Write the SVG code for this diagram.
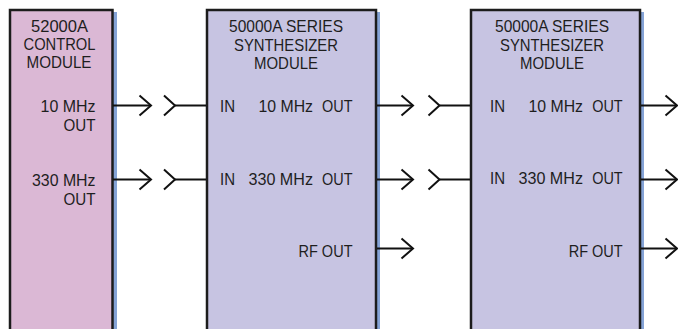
<svg xmlns="http://www.w3.org/2000/svg" width="678" height="329" viewBox="0 0 678 329">
<defs>
<style>
.box{stroke:#1c1c1c;stroke-width:2.5}
.ctl{fill:#dbb8d5}
.syn{fill:#c7c4e2}
.sh{fill:#85a3d6}
.t{font-family:"Liberation Sans",Arial,sans-serif;font-size:17px;fill:#1e1e1e}
.m{text-anchor:middle}
.e{text-anchor:end}
.w{fill:none;stroke:#111;stroke-width:2}
</style>
<marker id="out" markerUnits="userSpaceOnUse" markerWidth="1" markerHeight="1" refX="0" refY="0" orient="auto" overflow="visible">
<path d="M-11.5,-10 L0,0 L-11.5,10" fill="none" stroke="#111" stroke-width="2"/>
</marker>
<marker id="in" markerUnits="userSpaceOnUse" markerWidth="1" markerHeight="1" refX="0" refY="0" orient="auto" overflow="visible">
<path d="M-11,-10 L0,0 L-11,10" fill="none" stroke="#111" stroke-width="2"/>
</marker>
</defs>
<rect width="678" height="329" fill="#fff"/>

<g id="control">
<rect class="sh" x="14.5" y="12" width="102.5" height="330"/>
<rect class="box ctl" x="10" y="10" width="102.5" height="330"/>
<text class="t m" x="59.5" y="32.3" textLength="57" lengthAdjust="spacingAndGlyphs">52000A</text>
<text class="t m" x="59.5" y="50.3" textLength="72" lengthAdjust="spacingAndGlyphs">CONTROL</text>
<text class="t m" x="59" y="68.3" textLength="65" lengthAdjust="spacingAndGlyphs">MODULE</text>
<text class="t e" x="95.5" y="112" textLength="55" lengthAdjust="spacingAndGlyphs">10 MHz</text>
<text class="t e" x="95.5" y="131" textLength="32" lengthAdjust="spacingAndGlyphs">OUT</text>
<text class="t e" x="95.5" y="185.5" textLength="63.5" lengthAdjust="spacingAndGlyphs">330 MHz</text>
<text class="t e" x="95.5" y="204.5" textLength="32" lengthAdjust="spacingAndGlyphs">OUT</text>
</g>

<g id="synth1">
<rect class="sh" x="211" y="12" width="169" height="330"/>
<rect class="box syn" x="207" y="10" width="169" height="330"/>
<text class="t m" x="286" y="32.3" textLength="114" lengthAdjust="spacingAndGlyphs">50000A SERIES</text>
<text class="t m" x="286" y="50.5" textLength="104" lengthAdjust="spacingAndGlyphs">SYNTHESIZER</text>
<text class="t m" x="286" y="68.5" textLength="64" lengthAdjust="spacingAndGlyphs">MODULE</text>
<text class="t" x="220" y="112" textLength="15" lengthAdjust="spacingAndGlyphs">IN</text>
<text class="t e" x="313" y="112" textLength="54.5" lengthAdjust="spacingAndGlyphs">10 MHz</text>
<text class="t e" x="352.5" y="112" textLength="30.5" lengthAdjust="spacingAndGlyphs">OUT</text>
<text class="t" x="220" y="184.5" textLength="15" lengthAdjust="spacingAndGlyphs">IN</text>
<text class="t e" x="313" y="184.5" textLength="64.5" lengthAdjust="spacingAndGlyphs">330 MHz</text>
<text class="t e" x="352.5" y="184.5" textLength="30.5" lengthAdjust="spacingAndGlyphs">OUT</text>
<text class="t e" x="352.5" y="256.6" textLength="54" lengthAdjust="spacingAndGlyphs">RF OUT</text>
</g>

<g id="synth2">
<rect class="sh" x="475" y="12" width="169" height="330"/>
<rect class="box syn" x="471" y="10" width="169" height="330"/>
<text class="t m" x="552" y="32.3" textLength="114" lengthAdjust="spacingAndGlyphs">50000A SERIES</text>
<text class="t m" x="552" y="50.5" textLength="104" lengthAdjust="spacingAndGlyphs">SYNTHESIZER</text>
<text class="t m" x="552" y="68.5" textLength="64" lengthAdjust="spacingAndGlyphs">MODULE</text>
<text class="t" x="490" y="111.5" textLength="15" lengthAdjust="spacingAndGlyphs">IN</text>
<text class="t e" x="583" y="111.5" textLength="54.5" lengthAdjust="spacingAndGlyphs">10 MHz</text>
<text class="t e" x="622.7" y="111.5" textLength="30.5" lengthAdjust="spacingAndGlyphs">OUT</text>
<text class="t" x="490" y="184.4" textLength="15" lengthAdjust="spacingAndGlyphs">IN</text>
<text class="t e" x="583" y="184.4" textLength="64.5" lengthAdjust="spacingAndGlyphs">330 MHz</text>
<text class="t e" x="622.7" y="184.4" textLength="30.5" lengthAdjust="spacingAndGlyphs">OUT</text>
<text class="t e" x="622.7" y="256.7" textLength="54" lengthAdjust="spacingAndGlyphs">RF OUT</text>
</g>

<g id="connectors" class="w">
<line x1="113" y1="105.5" x2="151" y2="105.5" marker-end="url(#out)"/>
<line x1="175" y1="105.5" x2="206" y2="105.5" marker-start="url(#in)"/>
<line x1="113" y1="179.5" x2="151" y2="179.5" marker-end="url(#out)"/>
<line x1="175" y1="179.5" x2="206" y2="179.5" marker-start="url(#in)"/>
<line x1="377" y1="105.5" x2="413" y2="105.5" marker-end="url(#out)"/>
<line x1="439.5" y1="105.5" x2="470" y2="105.5" marker-start="url(#in)"/>
<line x1="377" y1="179.5" x2="413" y2="179.5" marker-end="url(#out)"/>
<line x1="439.5" y1="179.5" x2="470" y2="179.5" marker-start="url(#in)"/>
<line x1="377" y1="248.5" x2="413" y2="248.5" marker-end="url(#out)"/>
<line x1="641" y1="105.5" x2="677" y2="105.5" marker-end="url(#out)"/>
<line x1="641" y1="179.5" x2="677" y2="179.5" marker-end="url(#out)"/>
<line x1="641" y1="248.5" x2="677" y2="248.5" marker-end="url(#out)"/>
</g>
</svg>
